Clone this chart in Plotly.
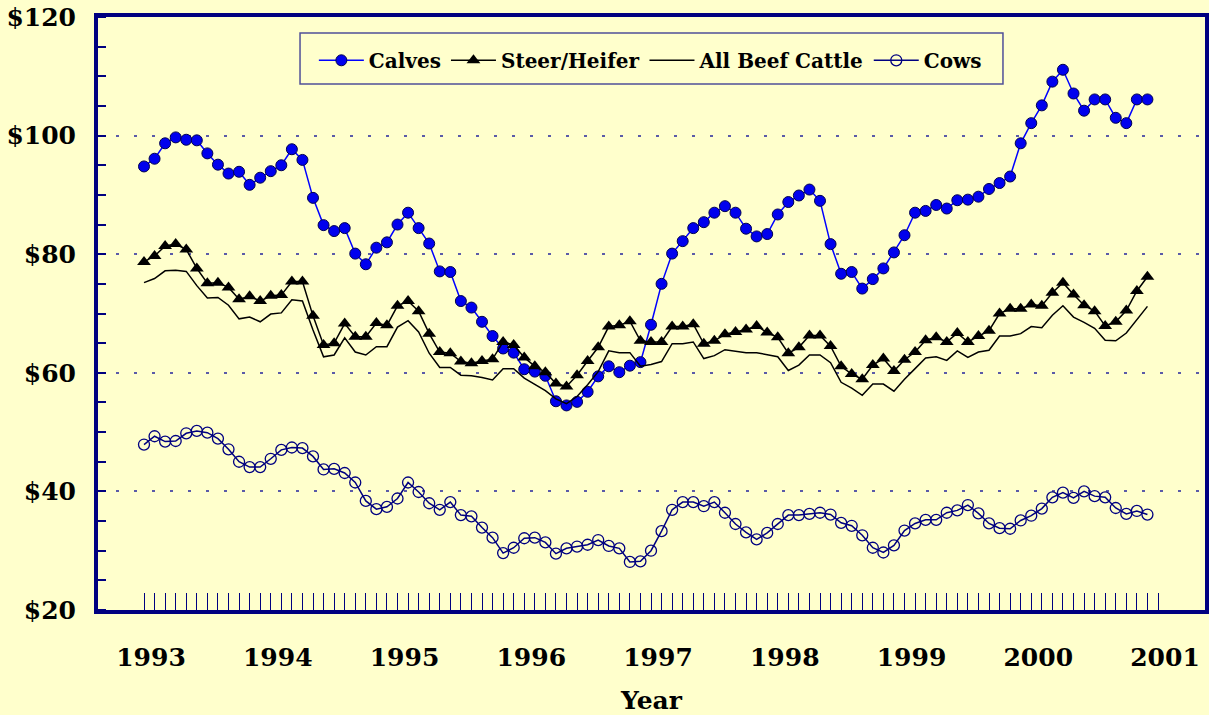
import plotly.graph_objects as go

# Monthly prices, Jan 1993 .. Dec 2000 (96 months)
month_index = list(range(96))
year_labels = ["1993", "1994", "1995", "1996", "1997", "1998", "1999", "2000", "2001"]

calves = [94.8, 96.1, 98.7, 99.7, 99.3, 99.2, 97.0, 95.1, 93.6, 93.9, 91.7, 92.9,
          94.0, 95.0, 97.7, 95.9, 89.5, 84.9, 83.9, 84.4, 80.1, 78.3, 81.1, 82.0,
          85.0, 87.0, 84.4, 81.8, 77.1, 77.0, 72.1, 71.0, 68.6, 66.2, 64.1, 63.4,
          60.6, 60.2, 59.5, 55.2, 54.5, 55.1, 56.8, 59.4, 61.1, 60.1, 61.2, 61.8,
          68.1, 75.0, 80.1, 82.2, 84.4, 85.4, 87.0, 88.1, 87.0, 84.3, 83.0, 83.4,
          86.7, 88.8, 89.9, 90.9, 89.0, 81.7, 76.7, 77.0, 74.2, 75.8, 77.6, 80.3,
          83.2, 87.0, 87.3, 88.3, 87.7, 89.1, 89.2, 89.7, 91.0, 92.0, 93.1, 98.7,
          102.1, 105.1, 109.1, 111.1, 107.1, 104.2, 106.1, 106.1, 103.0, 102.1, 106.1, 106.1]

steer_heifer = [78.7, 79.7, 81.4, 81.7, 80.8, 77.6, 75.1, 75.2, 74.4, 72.4, 72.9, 72.1,
                73.0, 73.1, 75.4, 75.4, 69.6, 64.7, 65.0, 68.3, 66.1, 66.1, 68.4, 68.0,
                71.3, 72.1, 70.4, 66.6, 63.5, 63.3, 61.9, 61.6, 62.0, 62.3, 65.2, 64.7,
                62.6, 61.1, 60.1, 58.2, 57.7, 59.6, 62.0, 64.3, 67.8, 68.0, 68.7, 65.4,
                65.2, 65.2, 67.8, 67.8, 68.2, 64.9, 65.4, 66.5, 66.9, 67.3, 67.9, 66.8,
                66.0, 63.3, 64.3, 66.3, 66.3, 64.5, 61.1, 59.8, 58.9, 61.3, 62.4, 60.3,
                62.2, 63.5, 65.5, 66.0, 65.2, 66.7, 65.2, 66.2, 67.1, 70.0, 70.8, 70.8,
                71.5, 71.3, 73.5, 75.2, 73.2, 71.4, 70.4, 67.9, 68.6, 70.5, 73.8, 76.2]

all_beef = [75.2, 75.9, 77.2, 77.3, 77.1, 74.7, 72.6, 72.7, 71.4, 69.1, 69.4, 68.6,
            69.9, 70.1, 72.3, 72.1, 67.2, 62.7, 63.0, 65.9, 63.5, 63.0, 64.4, 64.4,
            67.7, 68.8, 66.9, 63.3, 60.9, 60.9, 59.6, 59.5, 59.2, 58.8, 60.7, 60.7,
            59.1, 58.0, 57.0, 55.6, 54.8, 56.0, 58.0, 60.2, 63.7, 63.4, 63.4, 61.1,
            61.4, 61.9, 64.9, 64.9, 65.2, 62.4, 62.9, 63.9, 63.6, 63.4, 63.4, 63.1,
            62.7, 60.4, 61.3, 63.0, 63.0, 61.7, 58.4, 57.4, 56.2, 58.1, 58.1, 56.9,
            58.9, 60.7, 62.5, 62.7, 62.1, 63.7, 62.6, 63.5, 63.8, 66.2, 66.2, 66.6,
            67.8, 67.6, 69.7, 71.3, 69.4, 68.5, 67.5, 65.5, 65.4, 66.7, 68.9, 71.2]

cows = [47.9, 49.3, 48.4, 48.5, 49.8, 50.2, 49.9, 48.9, 47.1, 45.0, 44.1, 44.1,
        45.5, 47.0, 47.4, 47.3, 45.9, 43.7, 43.8, 43.1, 41.5, 38.4, 37.0, 37.4,
        38.8, 41.5, 39.9, 38.0, 36.9, 38.2, 36.0, 35.8, 33.9, 32.2, 29.6, 30.5,
        32.1, 32.2, 31.4, 29.5, 30.4, 30.7, 31.0, 31.8, 30.8, 30.4, 28.1, 28.2,
        30.0, 33.3, 36.9, 38.2, 38.2, 37.5, 38.2, 36.4, 34.5, 33.1, 31.9, 33.0,
        34.5, 36.0, 36.0, 36.2, 36.4, 36.1, 34.7, 34.2, 32.6, 30.5, 29.7, 30.9,
        33.4, 34.6, 35.2, 35.2, 36.4, 36.8, 37.7, 36.3, 34.6, 33.8, 33.7, 35.1,
        35.9, 37.1, 39.0, 39.8, 38.9, 40.0, 39.2, 39.0, 37.2, 36.2, 36.7, 36.1]

y_ticks = [20, 40, 60, 80, 100, 120]

BG = "#FFFFCC"
NAVY = "#000080"
FONT = "DejaVu Serif"

fig = go.Figure()
fig.add_trace(go.Scatter(
    x=month_index, y=calves, name="Calves", mode="lines+markers",
    line=dict(color="#0000FF", width=1.5),
    marker=dict(symbol="circle", size=11, color="#0000EE",
                line=dict(color="#000050", width=1))))
fig.add_trace(go.Scatter(
    x=month_index, y=steer_heifer, name="Steer/Heifer", mode="lines+markers",
    line=dict(color="#000000", width=1.5),
    marker=dict(symbol="triangle-up", size=12, color="#000000")))
fig.add_trace(go.Scatter(
    x=month_index, y=all_beef, name="All Beef Cattle", mode="lines",
    line=dict(color="#000000", width=1.5)))
fig.add_trace(go.Scatter(
    x=month_index, y=cows, name="Cows", mode="lines+markers",
    line=dict(color=NAVY, width=1.5),
    marker=dict(symbol="circle-open", size=11, color=NAVY,
                line=dict(color=NAVY, width=1.3))))

x_tickvals = list(range(97))
x_ticktext = [year_labels[i // 12] if i % 12 == 0 else "" for i in x_tickvals]

fig.update_layout(
    width=1209, height=715,
    paper_bgcolor=BG, plot_bgcolor=BG,
    margin=dict(l=98, r=4, t=17, b=105, autoexpand=False),
    font=dict(family=FONT, size=25, color="#000000", weight="bold"),
    showlegend=True,
    legend=dict(
        orientation="h", x=0.195, y=0.927, xanchor="left", yanchor="middle",
        bgcolor="rgba(0,0,0,0)", borderwidth=0,
        font=dict(family=FONT, size=20, color="#000000", weight="bold"),
        itemwidth=45, tracegroupgap=0,
    ),
    shapes=[dict(
        type="rect", xref="paper", yref="paper",
        x0=0.1825, x1=0.8175, y0=0.887, y1=0.973,
        line=dict(color="#505098", width=1.5), fillcolor=BG, layer="below",
    )],
    xaxis=dict(
        range=[-4.355, 100.45], automargin=False,
        tickmode="array", tickvals=x_tickvals, ticktext=x_ticktext,
        ticks="inside", ticklen=17, tickwidth=1, tickcolor=NAVY,
        ticklabelshift=7, ticklabelstandoff=22,
        tickfont=dict(family=FONT, size=25, color="#000000", weight="bold"),
        showgrid=False, zeroline=False,
        showline=True, linecolor=NAVY, linewidth=4, mirror=True,
        title=dict(text="Year", standoff=21,
                   font=dict(family=FONT, size=25, color="#000000", weight="bold")),
    ),
    yaxis=dict(
        range=[20, 120], automargin=False,
        tickmode="array", tickvals=y_ticks, ticktext=[f"${v}" for v in y_ticks],
        ticks="", ticklabelstandoff=13,
        tickfont=dict(family=FONT, size=25, color="#000000", weight="bold"),
        minor=dict(dtick=5, tick0=20, ticks="inside", ticklen=8, tickwidth=1.5,
                   tickcolor=NAVY, showgrid=False),
        showgrid=True, gridcolor="#5A5AA8", gridwidth=2, griddash="3px,15px",
        zeroline=False,
        showline=True, linecolor=NAVY, linewidth=4, mirror=True,
    ),
)

fig.write_html(
    "out.html",
    config={"displayModeBar": False},
    post_script="document.body.style.margin='0';document.body.style.background='#FFFFCC';",
)
